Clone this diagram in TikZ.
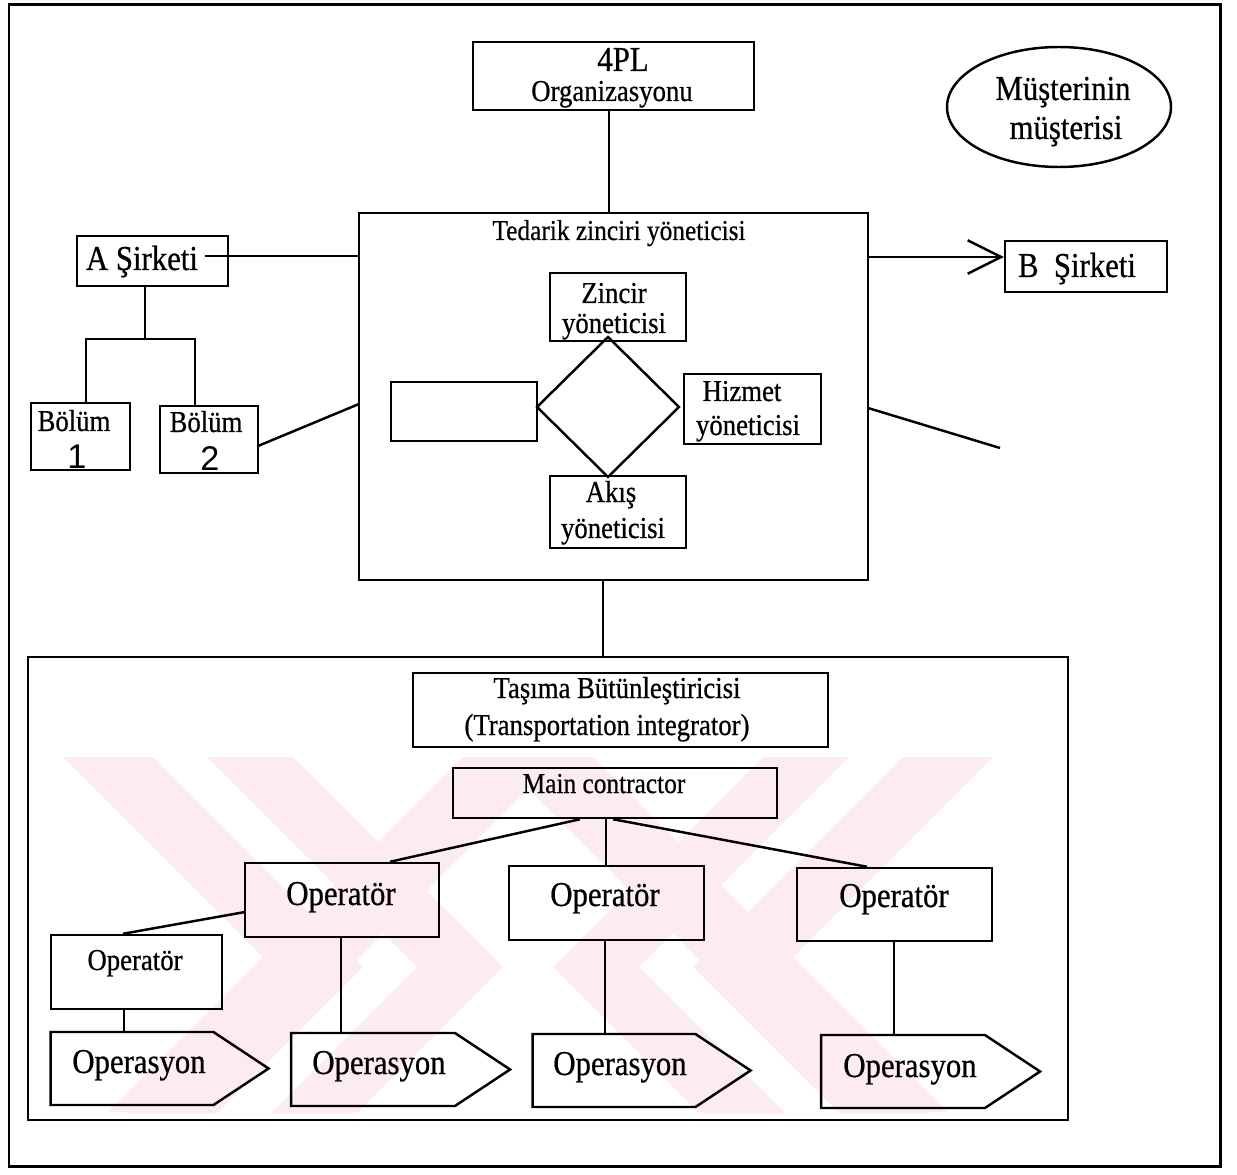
\documentclass[tikz,border=0pt]{standalone}
\usepackage{fontspec}
\setmainfont[FakeStretch=0.88, FakeBold=0.6]{Liberation Serif}
\newfontfamily\digitfont{Liberation Sans}
\usetikzlibrary{shapes.geometric,shapes.symbols,arrows.meta,calc}

\definecolor{wmpink}{RGB}{253,236,239}
\newcommand\tsz[1]{\fontsize{#1}{#1}\selectfont}

\begin{document}
\begin{tikzpicture}[x=0.02cm, y=-0.02cm, line width=1.4pt,
  sz/.style 2 args={minimum width=#1*0.02cm, minimum height=#2*0.02cm},
  box/.style={draw, rectangle, inner sep=0pt},
  txt/.style={inner sep=0pt, anchor=base},
  big/.style={txt, font=\tsz{19.9pt}},
  mid/.style={txt, font=\tsz{17.3pt}},
  small/.style={txt, font=\tsz{16.4pt}},
  num/.style={txt, font=\digitfont\tsz{19.5pt}},
  oper/.style={draw, signal, signal to=east, signal pointer angle=67, inner sep=0pt}]

\useasboundingbox (0,0) rectangle (1237,1175);
\fill[white] (0,0) rectangle (1237,1175);

% faint pink chevron pattern behind the lower panel
\begin{scope}
  \clip (57,757) rectangle (1000,1112);
  % left chevrons pointing right
  \fill[wmpink] (63,757) -- (153,757) -- (363,967) -- (153,1177) -- (63,1177) -- (273,967) -- cycle;
  \fill[wmpink] (207,757) -- (293,757) -- (503,967) -- (293,1177) -- (207,1177) -- (417,967) -- cycle;
  % right chevrons pointing left
  \fill[wmpink] (993,757) -- (903,757) -- (693,967) -- (903,1177) -- (993,1177) -- (783,967) -- cycle;
  \fill[wmpink] (849,757) -- (763,757) -- (553,967) -- (763,1177) -- (849,1177) -- (639,967) -- cycle;
  % crossing bands in the middle
  \fill[wmpink] (463,757) -- (560,757) -- (205,1112) -- (108,1112) -- cycle;
  \fill[wmpink] (496,757) -- (593,757) -- (948,1112) -- (851,1112) -- cycle;
\end{scope}

% page frame
\draw[line width=1.7pt] (9,5) rectangle (1220,1166);

% top level
\node[box, sz={281}{68}] (pl) at (613.5,76) {};
\node[big] (plT1) at (623,71) {4PL};
\node[mid] (plT2) at (612,101) {Organizasyonu};

\node[draw, ellipse, inner sep=0pt, sz={224}{120}] (cust) at (1059,107) {};
\node[big] (custT1) at (1063,100) {Müşterinin};
\node[big] (custT2) at (1066,139) {müşterisi};

% supply chain manager
\node[box, sz={509}{367}] (scm) at (613.5,396.5) {};
\node[small] (scmT) at (619,240) {Tedarik zinciri yöneticisi};

\node[box, sz={136}{68}] (zin) at (618,307) {};
\node[mid] (zinT1) at (614,303) {Zincir};
\node[mid] (zinT2) at (614,333) {yöneticisi};

\node[box, sz={146}{59}] (emp) at (464,411.5) {};

\node[box, sz={137}{70}] (hiz) at (752.5,409) {};
\node[mid] (hizT1) at (742,401) {Hizmet};
\node[mid] (hizT2) at (748,435) {yöneticisi};

\node[box, sz={136}{72}] (aki) at (618,512) {};
\node[mid] (akiT1) at (611,502) {Akış};
\node[mid] (akiT2) at (613,538) {yöneticisi};

\node[draw, diamond, inner sep=0pt, sz={143}{141}] (dia) at (608,407) {};

% companies
\node[box, sz={151}{50}] (asirk) at (152.5,261) {};
\node[big] (asirkT) at (142,270) {A Şirketi};

\node[box, sz={162}{51}] (bsirk) at (1086,266.5) {};
\node[big] (bsirkT) at (1077,277) {B\ \ Şirketi};

\node[box, sz={99}{67}] (b1) at (80.5,436.5) {};
\node[mid] (b1T) at (74,431) {Bölüm};
\node[num] (b1N) at (77,469) {1};

\node[box, sz={98}{67}] (b2) at (209,439.5) {};
\node[mid] (b2T) at (206,432) {Bölüm};
\node[num] (b2N) at (210,471) {2};

% transportation panel
\node[box, sz={1040}{463}] (trans) at (548,888.5) {};

\node[box, sz={415}{74}] (tas) at (620.5,710) {};
\node[mid] (tasT1) at (617,698) {Taşıma Bütünleştiricisi};
\node[mid] (tasT2) at (607,735) {(Transportation integrator)};

\node[box, sz={324}{50}] (mc) at (615,793) {};
\node[small] (mcT) at (604,793) {Main contractor};

\node[box, sz={194}{74}] (op1) at (342,900) {};
\node[big] (op1T) at (341,905) {Operatör};
\node[box, sz={195}{74}] (op2) at (606.5,903) {};
\node[big] (op2T) at (605,906) {Operatör};
\node[box, sz={195}{73}] (op3) at (894.5,904.5) {};
\node[big] (op3T) at (894,907) {Operatör};

\node[box, sz={171}{74}] (ops) at (136.5,972) {};
\node[mid] (opsT) at (135,970) {Operatör};

% operation arrows (signal centre sits on the rectangular body)
\node[oper, sz={218}{73}] (opa1) at (132,1068.5) {};
\node[big] (opa1T) at (139,1073) {Operasyon};
\node[oper, sz={219}{73}] (opa2) at (373,1069.5) {};
\node[big] (opa2T) at (379,1074) {Operasyon};
\node[oper, sz={218}{73}] (opa3) at (614,1070.5) {};
\node[big] (opa3T) at (620,1075) {Operasyon};
\node[oper, sz={219}{73}] (opa4) at (903,1071.5) {};
\node[big] (opa4T) at (910,1077) {Operasyon};

% helper coordinates for connector positions
\coordinate (xPl) at (609,0);
\coordinate (aOut) at (205,256);
\coordinate (fork) at (145,339);
\coordinate (jL) at (86,339);
\coordinate (jR) at (195,339);
\coordinate (b2Out) at (258,446);
\coordinate (scmIn) at (359,404);
\coordinate (arY) at (0,257);
\coordinate (rOut) at (868,408);
\coordinate (freeEnd) at (1000,448);
\coordinate (xDown) at (603,0);
\coordinate (mcA) at (580,0);
\coordinate (mcB) at (606,0);
\coordinate (mcC) at (613,0);
\coordinate (opA) at (390,0);
\coordinate (opC) at (867,0);
\coordinate (op1W) at (245,912);
\coordinate (opsN) at (123,0);
\coordinate (xOps) at (124,0);
\coordinate (xOp1) at (341,0);
\coordinate (xOp2) at (605,0);
\coordinate (xOp3) at (894,0);

% connectors
\draw (pl.south -| xPl) -- (scm.north -| xPl);
\draw (aOut) -- (aOut -| scm.west);
\draw (asirk.south -| fork) -- (fork);
\draw (jL |- b1.north) -- (jL) -- (jR) -- (jR |- b2.north);
\draw (b2Out) -- (scmIn);
\draw[-{Straight Barb[length=19pt, width=19pt]}] (scm.east |- arY) -- (bsirk.west |- arY);
\draw (rOut) -- (freeEnd);
\draw (scm.south -| xDown) -- (trans.north -| xDown);

\draw (mc.south -| mcA) -- (op1.north -| opA);
\draw (mc.south -| mcB) -- (op2.north -| mcB);
\draw (mc.south -| mcC) -- (op3.north -| opC);
\draw (op1W) -- (ops.north -| opsN);
\draw (ops.south -| xOps) -- (opa1.north -| xOps);
\draw (op1.south -| xOp1) -- (opa2.north -| xOp1);
\draw (op2.south -| xOp2) -- (opa3.north -| xOp2);
\draw (op3.south -| xOp3) -- (opa4.north -| xOp3);
\end{tikzpicture}
\end{document}
